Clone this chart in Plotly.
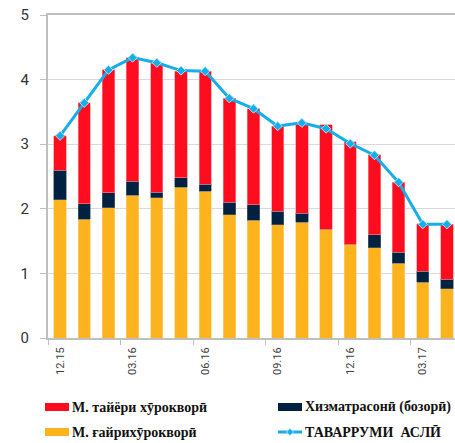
import plotly.graph_objects as go

months = ["12.15", "01.16", "02.16", "03.16", "04.16", "05.16", "06.16", "07.16", "08.16",
          "09.16", "10.16", "11.16", "12.16", "01.17", "02.17", "03.17", "04.17"]
non_food = [2.14, 1.84, 2.02, 2.21, 2.17, 2.33, 2.27, 1.91, 1.82, 1.75, 1.79, 1.68, 1.45, 1.40, 1.16, 0.86, 0.76]
services = [0.46, 0.24, 0.23, 0.22, 0.09, 0.15, 0.11, 0.19, 0.24, 0.21, 0.14, 0.00, 0.00, 0.20, 0.17, 0.17, 0.15]
food = [0.53, 1.56, 1.90, 1.91, 1.99, 1.65, 1.75, 1.61, 1.49, 1.32, 1.38, 1.62, 1.59, 1.24, 1.08, 0.74, 0.85]
core = [3.13, 3.64, 4.15, 4.34, 4.26, 4.14, 4.13, 3.71, 3.55, 3.28, 3.33, 3.24, 3.01, 2.83, 2.41, 1.76, 1.76]
tick_labels = ["12.15", "03.16", "06.16", "09.16", "12.16", "03.17"]

names = ["М. тайёри хӯрокворӣ", "Хизматрасонӣ (бозорӣ)", "М. ғайрихӯрокворӣ", "ТАВАРРУМИ&nbsp;&nbsp;АСЛӢ"]

RED, NAVY, ORANGE, BLUE = "#FF0D1E", "#00213F", "#FDB31E", "#17ADE8"

x = list(range(len(months)))
W, H = 455, 443
L, R, T, B = 48, 0, 15, 105
pw, ph = W - L - R, H - T - B

fig = go.Figure()
fig.add_bar(x=x, y=non_food, marker=dict(color=ORANGE, line=dict(color="#FFD27A", width=0.6)), width=0.51, name=names[2])
fig.add_bar(x=x, y=services, marker=dict(color=NAVY, line=dict(color="#5A6B80", width=0.6)), width=0.51, name=names[1])
fig.add_bar(x=x, y=food, marker=dict(color=RED, line=dict(color="#FF8A92", width=0.6)), width=0.51, name=names[0])
fig.add_scatter(x=x, y=core, mode="lines+markers", line=dict(color=BLUE, width=3),
                marker=dict(symbol="diamond", size=7, color=BLUE, line=dict(color="#A8E2F8", width=1)),
                name=names[3])

step = 24.18
fig.update_layout(
    width=W, height=H, barmode="stack", showlegend=False,
    margin=dict(l=L, r=R, t=T, b=B),
    plot_bgcolor="white", paper_bgcolor="white",
    xaxis=dict(range=[-0.5, -0.5 + pw / step], tickmode="array",
               tickvals=[months.index(t) for t in tick_labels], ticktext=tick_labels,
               tickangle=-90, ticks="", showgrid=False, zeroline=False,
               showline=True, linecolor="#BFBFBF", linewidth=2, mirror=True,
               ticklabelstandoff=3,
               tickfont=dict(family="Roboto", size=11, color="#404040"),
               minor=dict(tickmode="array", tickvals=[-0.5, 2.5, 5.5, 8.5, 11.5, 14.5],
                          ticks="outside", ticklen=5, tickcolor="#BFBFBF", tickwidth=1, showgrid=False)),
    yaxis=dict(range=[0, 5], dtick=1, showgrid=True, gridcolor="#D9D9D9", gridwidth=1,
               zeroline=False, showline=True, linecolor="#BFBFBF", linewidth=2,
               ticks="outside", ticklen=6, tickcolor="#BFBFBF", ticklabelstandoff=8,
               tickfont=dict(family="Roboto", size=15, color="#333333")),
)

def px(v):
    return (v - L) / pw

def py(v):
    return (H - B - v) / ph

legend = [
    (45, 407, RED, names[0], "rect"),
    (278, 407, NAVY, names[1], "rect"),
    (45, 432, ORANGE, names[2], "rect"),
    (278, 432, BLUE, names[3], "line"),
]
for lx, ly, col, txt, kind in legend:
    if kind == "rect":
        fig.add_shape(type="rect", xref="paper", yref="paper", x0=px(lx), x1=px(lx + 24),
                      y0=py(ly - 4), y1=py(ly + 4), fillcolor=col, line=dict(width=0))
    else:
        fig.add_shape(type="line", xref="paper", yref="paper", x0=px(lx), x1=px(lx + 24),
                      y0=py(ly), y1=py(ly), line=dict(color=col, width=3))
        cx = lx + 12
        fig.add_shape(type="path", xref="paper", yref="paper",
                      path=f"M {px(cx-3.5)} {py(ly)} L {px(cx)} {py(ly-3.5)} L {px(cx+3.5)} {py(ly)} L {px(cx)} {py(ly+3.5)} Z",
                      fillcolor=col, line=dict(color="#A8E2F8", width=1))
    fig.add_annotation(xref="paper", yref="paper", x=px(lx + 25), y=py(ly), text=f"<b>{txt}</b>",
                       showarrow=False, xanchor="left", yanchor="middle",
                       font=dict(family="Liberation Serif", size=14, color="#111111"))

fig.write_html("out.html", config={"displayModeBar": False},
               post_script="document.body.style.margin='0px';")
